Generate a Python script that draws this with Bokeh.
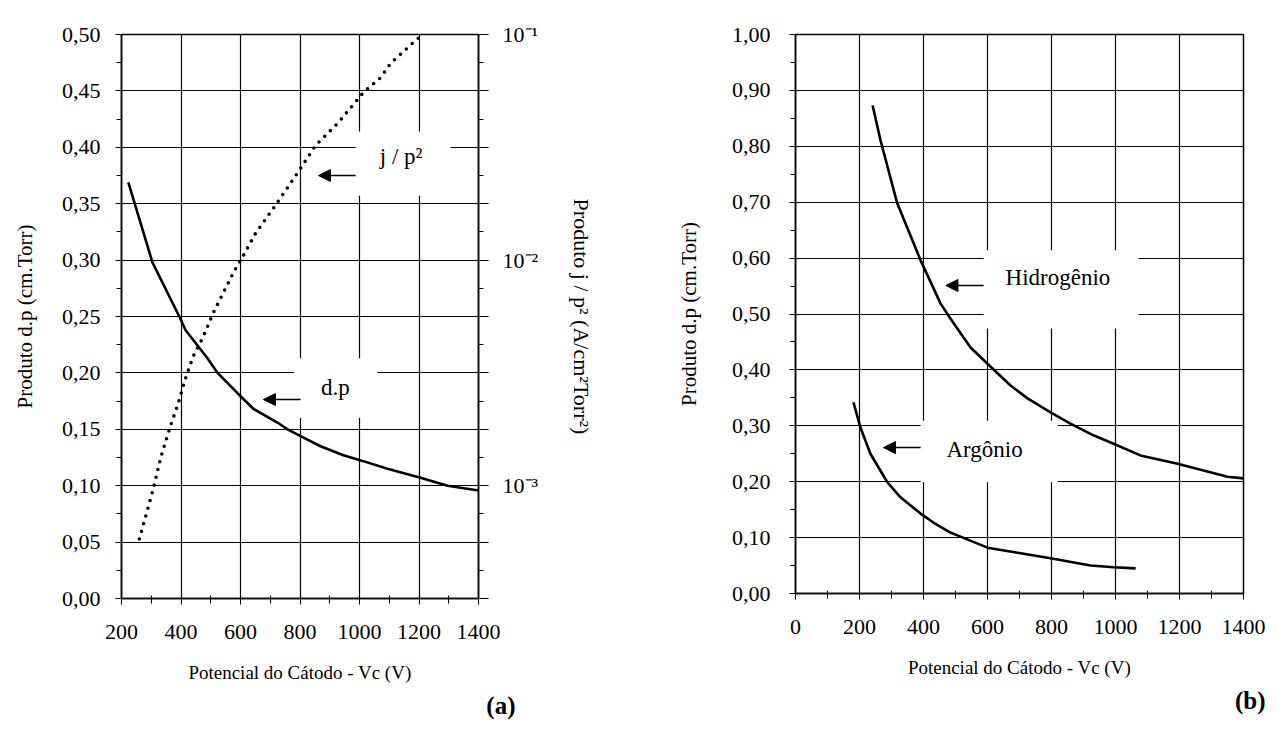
from bokeh.plotting import figure
from bokeh.models import (Range1d, LogAxis, LogScale, FixedTicker, SingleIntervalTicker,
                          CustomJSTickFormatter, BoxAnnotation, Arrow, NormalHead, Label, Title)
from bokeh.layouts import row
from bokeh.embed import file_html
from bokeh.resources import INLINE

FONT = "Liberation Serif"

# ---------------- data (a) ----------------
vc_dp_a = [223, 264, 304, 398, 415, 489, 523, 590, 644, 724, 758, 802, 869, 946, 1010, 1094, 1205, 1296, 1400]
dp_a = [0.369, 0.333, 0.298, 0.248, 0.238, 0.213, 0.200, 0.182, 0.168, 0.156, 0.150, 0.144, 0.135, 0.127,
        0.122, 0.115, 0.107, 0.100, 0.0957]

vc_jp2 = [260, 308, 331, 351, 365, 388, 415, 442, 472, 509, 576, 610, 650, 724, 802, 852, 929, 1013, 1071,
          1104, 1188, 1212]
jp2 = [5.8e-4, 9.8e-4, 1.32e-3, 1.61e-3, 1.85e-3, 2.26e-3, 2.99e-3, 3.77e-3, 4.49e-3, 5.85e-3, 8.8e-3,
       1.05e-2, 1.31e-2, 1.80e-2, 2.55e-2, 3.22e-2, 4.07e-2, 5.53e-2, 6.44e-2, 7.43e-2, 9.40e-2, 1.0e-1]

# ---------------- data (b) ----------------
vc_h = [241, 266, 318, 391, 453, 484, 547, 600, 672, 725, 797, 859, 931, 994, 1078, 1194, 1275, 1350, 1400]
dp_h = [0.873, 0.810, 0.698, 0.596, 0.519, 0.492, 0.440, 0.411, 0.372, 0.349, 0.324, 0.304, 0.283, 0.268,
        0.247, 0.232, 0.220, 0.209, 0.206]

vc_ar = [181, 203, 234, 287, 328, 391, 431, 484, 506, 600, 694, 797, 922, 994, 1063]
dp_ar = [0.342, 0.297, 0.250, 0.199, 0.172, 0.143, 0.127, 0.109, 0.104, 0.082, 0.073, 0.063, 0.050, 0.047,
         0.045]

comma2 = CustomJSTickFormatter(code="return tick.toFixed(2).replace('.', ',');")
int_fmt = CustomJSTickFormatter(code="return tick.toFixed(0);")


def style(p):
    p.outline_line_color = "black"
    p.outline_line_width = 1.5
    p.outline_line_alpha = 1
    p.background_fill_color = "white"
    p.border_fill_color = "white"
    for g in (p.xgrid, p.ygrid):
        g.grid_line_color = "black"
        g.grid_line_alpha = 1
        g.grid_line_width = 1.2
    for ax in (p.xaxis, p.yaxis):
        ax.axis_line_color = "black"
        ax.axis_line_width = 1.5
        ax.major_tick_line_color = "black"
        ax.minor_tick_line_color = "black"
        ax.major_tick_out = 6
        ax.major_tick_in = 0
        ax.minor_tick_out = 5
        ax.minor_tick_in = 0
        ax.major_label_text_font = FONT
        ax.major_label_text_font_size = "22px"
        ax.major_label_text_color = "black"
        ax.axis_label_text_font = FONT
        ax.axis_label_text_font_style = "normal"
        ax.axis_label_text_color = "black"
    p.xaxis.axis_label_text_font_size = "19px"
    p.yaxis.axis_label_text_font_size = "21px"
    p.xaxis.major_tick_in = 4
    p.xaxis.minor_tick_in = 3
    p.xaxis.major_label_standoff = 20
    p.xaxis.axis_label_standoff = 20
    p.xaxis.axis_label = "Potencial do Cátodo - Vc (V)"
    p.yaxis.axis_label = "Produto d.p (cm.Torr)"


def white_box(p, l, r, b, t, **kw):
    p.add_layout(BoxAnnotation(left=l, right=r, bottom=b, top=t, fill_color="white", fill_alpha=1,
                               line_alpha=0, **kw))


def arrow(p, xs, xe, y, **kw):
    p.add_layout(Arrow(end=NormalHead(size=12, fill_color="black", line_color="black"),
                       x_start=xs, y_start=y, x_end=xe, y_end=y, line_width=1.5, line_color="black", **kw))


def label(p, x, y, text, size="23px", style="normal"):
    p.add_layout(Label(x=x, y=y, text=text, text_font=FONT, text_font_size=size, text_color="black",
                       text_font_style=style, text_align="center", text_baseline="middle"))


def panel_tag(p, text, offset):
    p.add_layout(Title(text=text, align="right", offset=offset, standoff=8, text_font=FONT,
                       text_font_size="25px", text_font_style="bold", text_color="black"), "below")


# ---------------- panel (a) ----------------
p1 = figure(frame_width=357, frame_height=564, min_border_left=121, min_border_right=162,
            min_border_top=29, min_border_bottom=138, x_range=Range1d(200, 1400), y_range=Range1d(0, 0.5),
            output_backend="svg", toolbar_location=None)
p1.extra_y_ranges = {"log": Range1d(10 ** -3.5, 10 ** -1)}
p1.extra_y_scales = {"log": LogScale()}
p1.xaxis.ticker = SingleIntervalTicker(interval=200, num_minor_ticks=2)
p1.yaxis.ticker = SingleIntervalTicker(interval=0.05, num_minor_ticks=2)
p1.xaxis.formatter = int_fmt
p1.yaxis.formatter = comma2
style(p1)
p1.yaxis.major_label_standoff = 15
p1.yaxis.axis_label_standoff = 22

log_major = [10 ** (-3.5 + 0.25 * k) for k in range(11)]
log_minor = [10 ** (-3.5 + 0.125 * (2 * k + 1)) for k in range(10)]
rax = LogAxis(y_range_name="log", ticker=FixedTicker(ticks=log_major, minor_ticks=log_minor),
              formatter=CustomJSTickFormatter(code="""
                const e = Math.log10(tick);
                const r = Math.round(e);
                if (Math.abs(e - r) > 1e-6) return '';
                const sup = {'-1': '\u207b\u00b9', '-2': '\u207b\u00b2', '-3': '\u207b\u00b3'};
                return '10' + sup[String(r)];
              """),
              axis_label="Produto j / p² (A/cm²Torr²)")
rax.axis_line_color = "black"
rax.axis_line_width = 1.5
rax.major_tick_line_color = "black"
rax.minor_tick_line_color = "black"
rax.major_tick_out = 10
rax.major_tick_in = 0
rax.minor_tick_out = 5
rax.minor_tick_in = 0
rax.major_label_standoff = 14
rax.major_label_text_font = FONT
rax.major_label_text_font_size = "22px"
rax.major_label_text_color = "black"
rax.axis_label_text_font = FONT
rax.axis_label_text_font_size = "22px"
rax.axis_label_text_font_style = "normal"
rax.axis_label_text_color = "black"
rax.axis_label_standoff = 28
p1.add_layout(rax, "right")

white_box(p1, 780, 1060, 0.160, 0.213)
white_box(p1, 987, 1306, 0.357, 0.414)

p1.line(vc_dp_a, dp_a, line_color="black", line_width=2.6)
p1.line(vc_jp2, jp2, y_range_name="log", line_color="black", line_width=3.6, line_dash="0 8",
        line_cap="round")

arrow(p1, 802, 677, 0.1764)
label(p1, 919, 0.187, "d.p")
arrow(p1, 987, 862, 0.375)
label(p1, 1140, 0.392, "j / p²")
panel_tag(p1, "(a)", -37)

# ---------------- panel (b) ----------------
p2 = figure(frame_width=448, frame_height=559, min_border_left=155, min_border_right=35,
            min_border_top=34, min_border_bottom=138, x_range=Range1d(0, 1400), y_range=Range1d(0, 1.0),
            output_backend="svg", toolbar_location=None)
p2.xaxis.ticker = SingleIntervalTicker(interval=200, num_minor_ticks=2)
p2.yaxis.ticker = SingleIntervalTicker(interval=0.1, num_minor_ticks=2)
p2.xaxis.formatter = int_fmt
p2.yaxis.formatter = comma2
style(p2)
p2.yaxis.major_label_standoff = 19
p2.yaxis.axis_label_standoff = 28

white_box(p2, 588, 1072, 0.474, 0.614)
white_box(p2, 391, 819, 0.199, 0.309)

p2.line(vc_h, dp_h, line_color="black", line_width=2.6)
p2.line(vc_ar, dp_ar, line_color="black", line_width=2.6)

arrow(p2, 588, 470, 0.551)
label(p2, 820, 0.566, "Hidrogênio")
arrow(p2, 391, 275, 0.261)
label(p2, 591, 0.257, "Argônio")
panel_tag(p2, "(b)", -22)

layout = row(p1, p2)
open("out.html", "w").write(file_html(layout, INLINE))
